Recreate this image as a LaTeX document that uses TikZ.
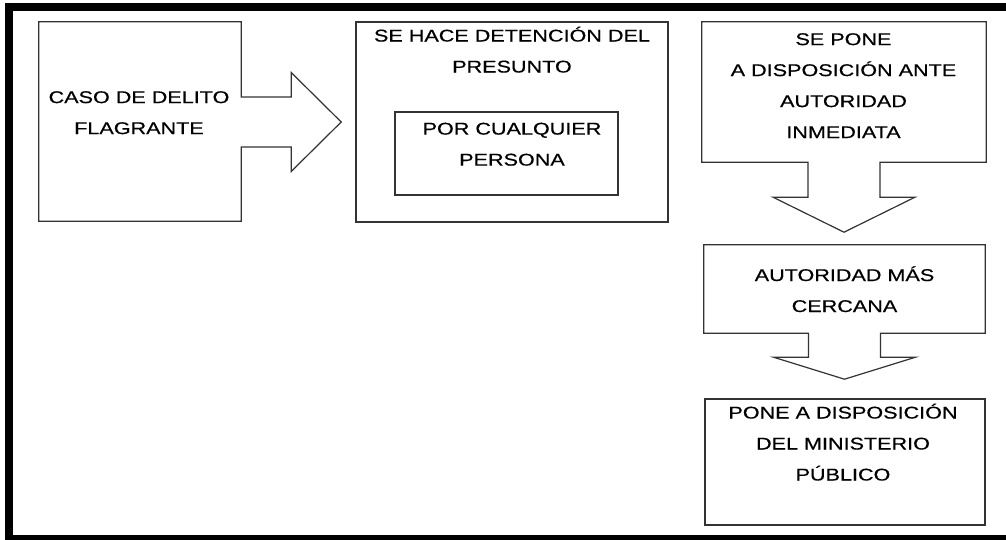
\documentclass[tikz,border=0pt]{standalone}
\usepackage{fontspec}
\setmainfont{Liberation Sans}[FakeStretch=1.27,FakeBold=0.4]
\usepackage{tikz}
\usetikzlibrary{calc}

\tikzset{
    linea/.style={draw=black!80, line width=1.2pt, line join=miter},
    caja/.style={linea, inner sep=0pt},
    hueco/.style={draw=none, inner sep=0pt},
    texto/.style={font=\fontsize{17}{31}\selectfont, align=center, inner sep=0pt,
        execute at begin node=\strut, execute at end node=\strut}
}

\begin{document}
\begin{tikzpicture}[x=1pt,y=-1pt]
            \useasboundingbox (0,0) rectangle (1006,540);
            \clip (0,0) rectangle (1006,540);
            \fill[white] (0,0) rectangle (1006,540);
            \draw[line width=8pt] (9,7) rectangle (1014,539);

            \node[hueco, minimum width=202pt, minimum height=199pt] (caso) at (140,121.5) {};
            \node[caja, minimum width=312pt, minimum height=200pt] (detencion) at (512,122) {};
            \node[caja, minimum width=223pt, minimum height=83pt] (cualquier) at (506.5,153.5) {};
            \node[hueco, minimum width=284pt, minimum height=140pt] (inmediata) at (844,92) {};
            \node[hueco, minimum width=281pt, minimum height=88pt] (cercana) at (844.5,289) {};
            \node[caja, minimum width=280pt, minimum height=126pt] (ministerio) at (845,462) {};

            \draw[linea] (caso.north west) -- (caso.north east) -- ($(caso.east)+(0,-24.5)$) -- ++(50,0) -- ++(0,-24.5)
                -- ++(50,49.5) -- ++(-50,49.5) -- ++(0,-24.5) -- ++(-50,0) -- (caso.south east) -- (caso.south west) -- cycle;
            \draw[linea] (inmediata.north west) -- (inmediata.north east) -- (inmediata.south east) -- ($(inmediata.south)+(36,0)$)
                -- ++(0,35) -- ++(35,0) -- ++(-71,35) -- ++(-71,-35) -- ++(35,0) -- ++(0,-35) -- (inmediata.south west) -- cycle;
            \draw[linea] (cercana.north west) -- (cercana.north east) -- (cercana.south east) -- ($(cercana.south)+(36,0)$)
                -- ++(0,24) -- ++(35,0) -- ++(-71,22) -- ++(-71,-22) -- ++(35,0) -- ++(0,-24) -- (cercana.south west) -- cycle;

            \node[texto] (t-caso) at (139,117.3) {CASO DE DELITO\\FLAGRANTE};
            \node[texto] (t-detencion) at (512,54.3) {SE HACE DETENCIÓN DEL\\PRESUNTO};
            \node[texto] (t-cualquier) at (512,148.8) {POR CUALQUIER\\PERSONA};
            \node[texto] (t-inmediata) at (843.5,90.3) {SE PONE\\A DISPOSICIÓN ANTE\\AUTORIDAD\\INMEDIATA};
            \node[texto] (t-cercana) at (844.5,293.8) {AUTORIDAD MÁS\\CERCANA};
            \node[texto] (t-ministerio) at (843,446.8) {PONE A DISPOSICIÓN\\DEL MINISTERIO\\PÚBLICO};
        \end{tikzpicture}
\end{document}
